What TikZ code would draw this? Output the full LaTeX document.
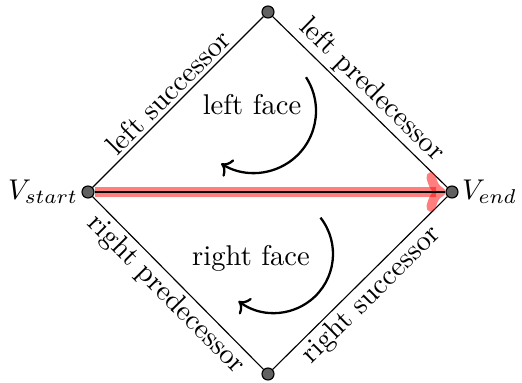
\documentclass[tikz,border=0pt]{standalone}
\usetikzlibrary{arrows.meta,positioning}
\begin{document}
\begin{tikzpicture}[x=0.35pt,y=0.35pt,
  vert/.style={circle,draw=black,fill=black!62,minimum size=4.2pt,inner sep=0pt,line width=0.4pt},
  edgelbl/.style={midway,sloped,inner sep=1.2pt,font=\normalsize},
  facearrow/.style={->,line width=0.8pt},
  hl/.style={-{Computer Modern Rightarrow[scale=0.75]},red,opacity=0.5,line width=3.3pt}]
\useasboundingbox (0,0) rectangle (522,383);
\node[vert] (s) at (88,191) {};
\node[vert] (e) at (452,191) {};
\node[vert] (t) at (268,371) {};
\node[vert] (b) at (268,9) {};
\node[left=0pt of s,inner sep=1pt] (sl) {$V_{start}$};
\node[right=0pt of e,inner sep=1pt] (el) {$V_{end}$};
\draw (s) -- node[edgelbl,above] {left successor} (t);
\draw (t) -- node[edgelbl,above] {left predecessor} (e);
\draw (s) -- node[edgelbl,below] {right predecessor} (b);
\draw (b) -- node[edgelbl,below] {right successor} (e);
\draw[hl] (s) -- (e);
\draw[line width=0.4pt] (s) -- (e);
\node (lf) at (252,278) {left face};
\node (rf) at (251,125) {right face};
\draw[facearrow] (254,272) ++(33:62) arc[start angle=33,end angle=-122,radius=62];
\draw[facearrow] (274,129) ++(38:59) arc[start angle=38,end angle=-127,radius=59];
\end{tikzpicture}
\end{document}
